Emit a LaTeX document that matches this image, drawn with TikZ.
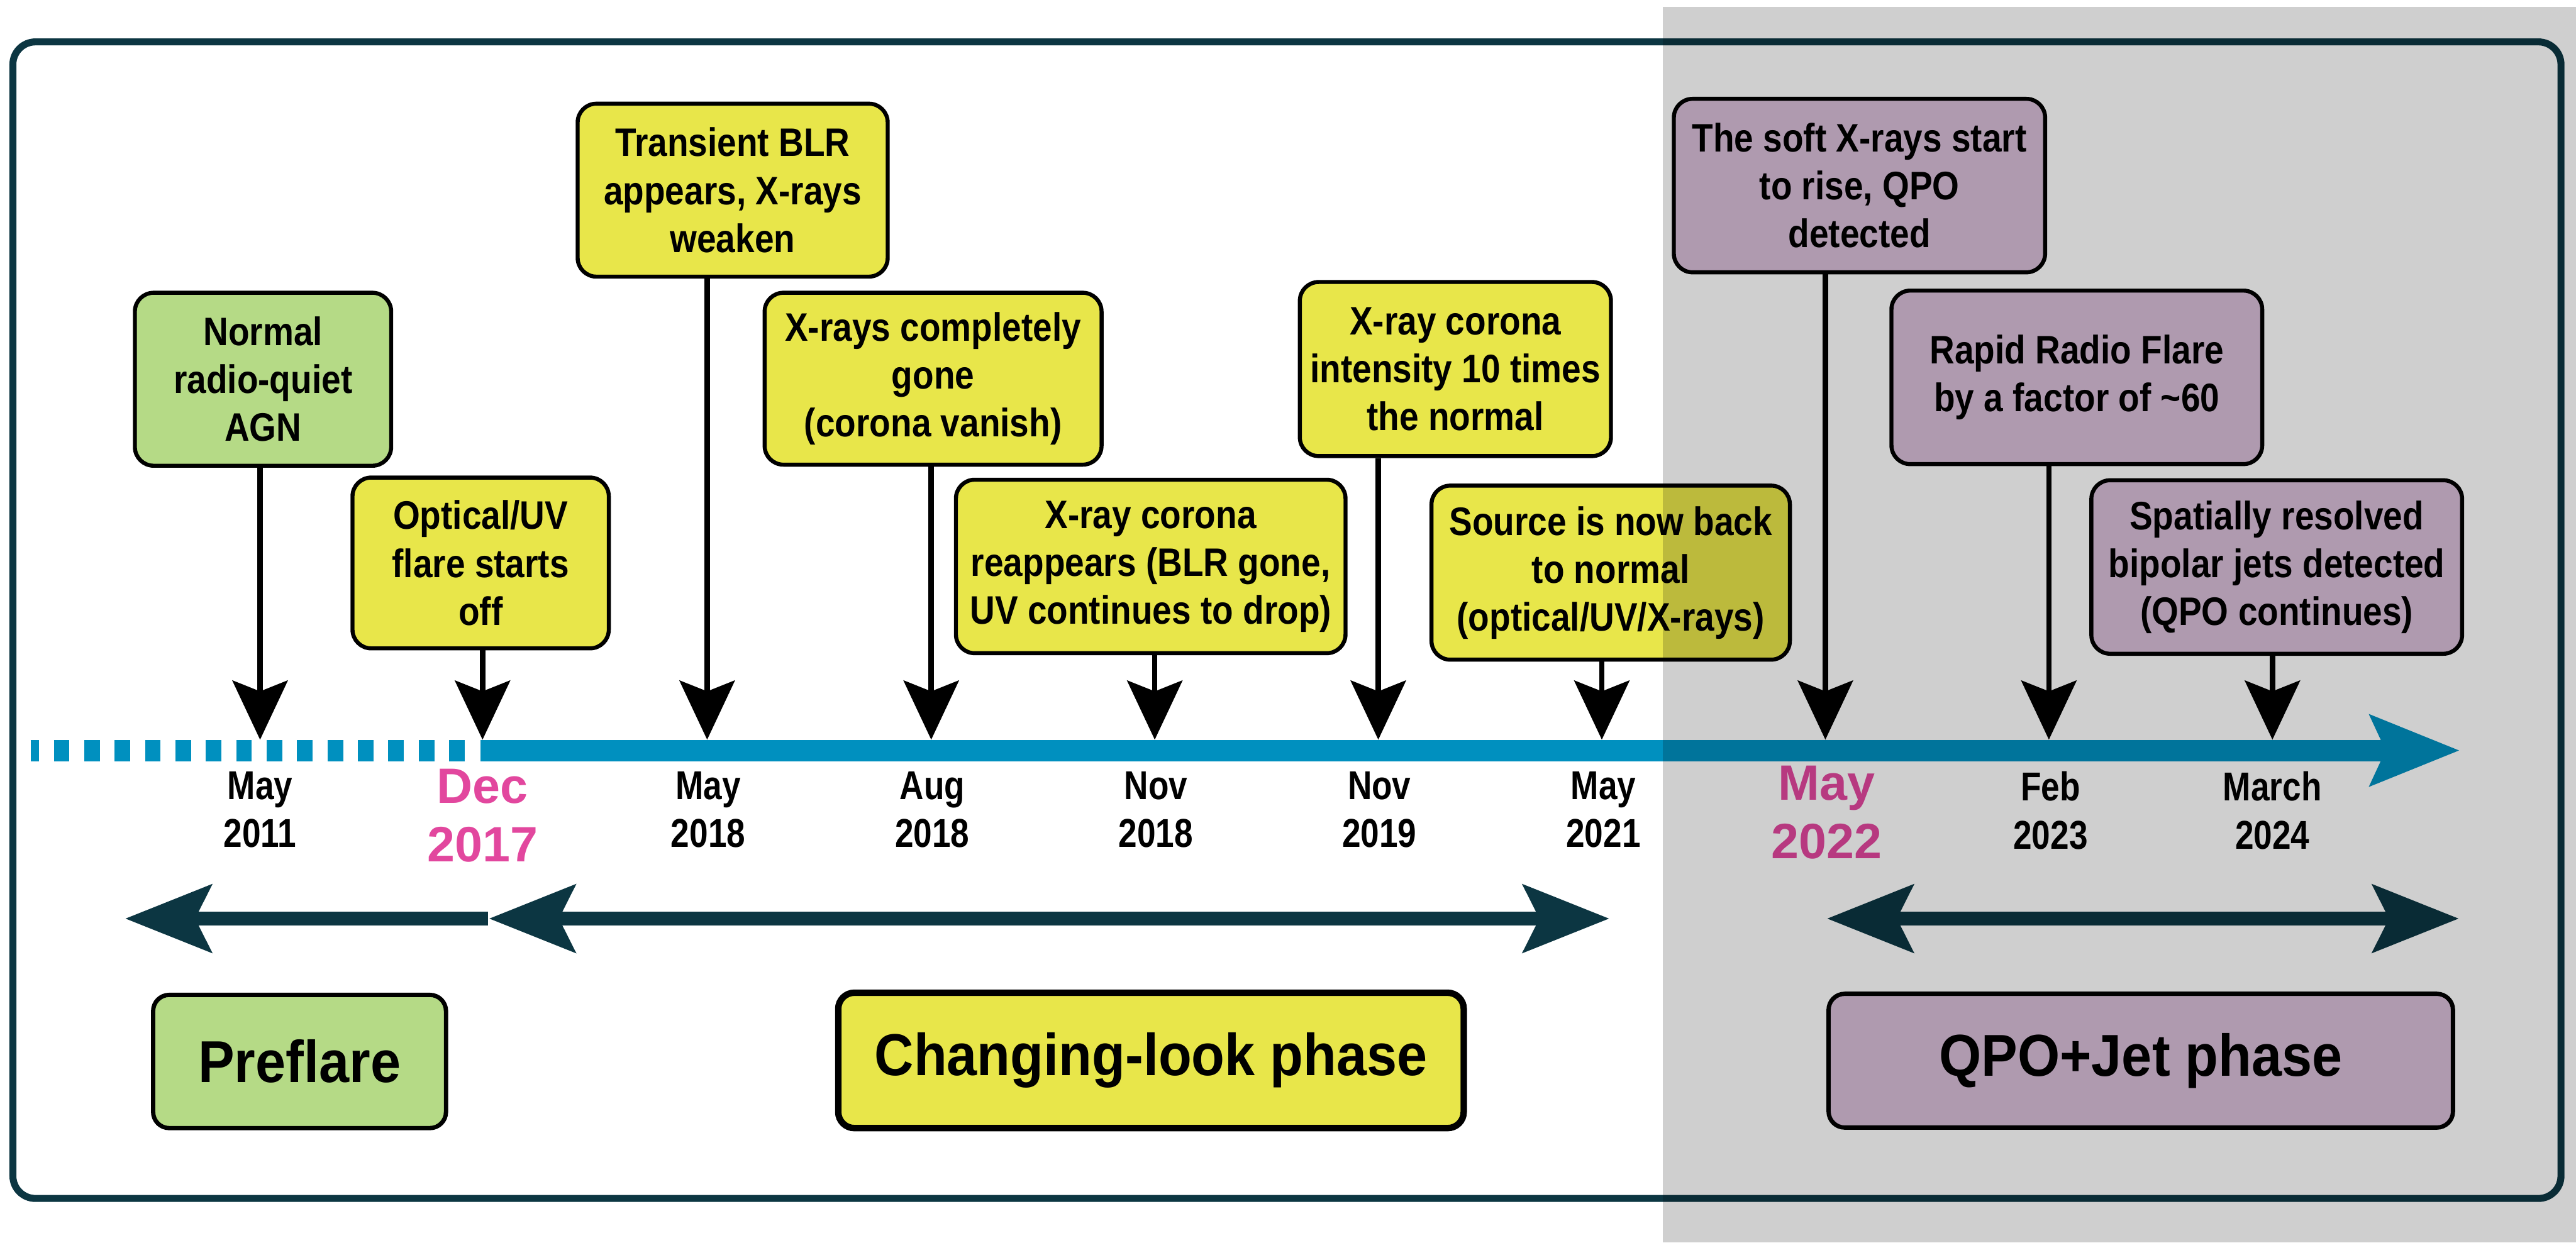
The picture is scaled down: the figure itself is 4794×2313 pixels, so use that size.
\documentclass[tikz,border=0pt]{standalone}
\usepackage{fontspec}
\setmainfont{Liberation Sans}[FakeStretch=0.92]
\newfontfamily\pinkfont{Liberation Sans}
\newfontfamily\boxfont{Liberation Sans}[FakeStretch=0.87]
\newfontfamily\datefont{Liberation Sans}[FakeStretch=0.83]
\usetikzlibrary{arrows.meta}
\definecolor{cgreen}{RGB}{181,218,134}
\definecolor{cyellow}{RGB}{232,230,74}
\definecolor{cpurple}{RGB}{216,190,216}
\definecolor{cblue}{RGB}{0,144,191}
\definecolor{cteal}{RGB}{12,54,66}
\definecolor{cpink}{RGB}{226,71,158}
\begin{document}
\begin{tikzpicture}[x=0.2pt,y=-0.2pt,
  evbox/.style={draw=black, line width=1.5pt, rounded corners=7pt, inner sep=0pt, align=center,
    font=\boxfont\bfseries\fontsize{14.8pt}{17.8pt}\selectfont},
  gbox/.style={evbox, fill=cgreen},
  ybox/.style={evbox, fill=cyellow},
  pbox/.style={evbox, fill=cpurple},
  phbox/.style={draw=black, line width=1.6pt, rounded corners=6pt, inner sep=0pt,
    font=\bfseries\fontsize{22pt}{26pt}\selectfont},
  conn/.style={line width=2pt, draw=black, -{Stealth[length=22pt,width=20.5pt,inset=4pt]}},
  datelab/.style={anchor=north, inner sep=0pt, align=center,
    font=\datefont\bfseries\fontsize{15pt}{18pt}\selectfont},
  pinkdate/.style={anchor=north, inner sep=0pt, align=center, text=cpink,
    font=\pinkfont\bfseries\fontsize{18.5pt}{21.8pt}\selectfont},
  phasearrow/.style={draw=cteal, line width=5pt},
  axisline/.style={draw=cblue, line width=8pt}
]
\useasboundingbox (0,0) rectangle (4794,2313);
\fill[white] (0,0) rectangle (4794,2313);

% outer frame
\draw[cteal, line width=2.6pt, rounded corners=8.4pt] (24,78) rectangle (4766,2231);

% timeline axis
\coordinate (axd0) at (57,1397);
\coordinate (axd1) at (866,1397);
\coordinate (ax0) at (894,1397);
\coordinate (ax1) at (4578,1397);
\draw[axisline, dash pattern=on 5.8pt off 5.52pt, dash phase=2.7pt] (axd0) -- (axd1);
\draw[axisline, -{Stealth[length=33pt,width=25.6pt,inset=5.4pt]}] (ax0) -- (ax1);

% tick points on the axis
\coordinate (t1) at (484,1377);
\coordinate (t2) at (898,1377);
\coordinate (t3) at (1316,1377);
\coordinate (t4) at (1733,1377);
\coordinate (t5) at (2149,1377);
\coordinate (t6) at (2565,1377);
\coordinate (t7) at (2981,1377);
\coordinate (t8) at (3397,1377);
\coordinate (t9) at (3813,1377);
\coordinate (t10) at (4229,1377);

% event boxes
\node[gbox, minimum width=95.4pt, minimum height=64.4pt] (N) at (489.5,706) {Normal\\radio-quiet\\AGN};
\node[ybox, minimum width=95.4pt, minimum height=63.6pt] (O) at (894.5,1048) {Optical/UV\\flare starts\\off};
\node[ybox, minimum width=115.4pt, minimum height=64.4pt] (T) at (1363.5,354) {Transient BLR\\appears, X-rays\\weaken};
\node[ybox, minimum width=125.4pt, minimum height=64pt] (XG) at (1736.5,705) {X-rays completely\\gone\\(corona vanish)};
\node[ybox, minimum width=145pt, minimum height=64.6pt] (XR) at (2141.5,1054.5) {X-ray corona\\reappears (BLR gone,\\UV continues to drop)};
\node[ybox, minimum width=115.8pt, minimum height=64.8pt] (XI) at (2708.5,687) {X-ray corona\\intensity 10 times\\the normal};
\node[ybox, minimum width=133.4pt, minimum height=64.8pt] (S) at (2997.5,1066) {Source is now back\\to normal\\(optical/UV/X-rays)};
\node[pbox, minimum width=138.2pt, minimum height=64.6pt] (SX) at (3460.5,345.5) {The soft X-rays start\\to rise, QPO\\detected};
\node[pbox, minimum width=138pt, minimum height=64.6pt] (RR) at (3865,702.5) {Rapid Radio Flare\\by a factor of \textasciitilde 60};
\node[pbox, minimum width=138pt, minimum height=64.6pt] (SR) at (4237,1055.5) {Spatially resolved\\bipolar jets detected\\(QPO continues)};

% connectors
\draw[conn] (N.south -| t1) -- (t1);
\draw[conn] (O.south -| t2) -- (t2);
\draw[conn] (T.south -| t3) -- (t3);
\draw[conn] (XG.south -| t4) -- (t4);
\draw[conn] (XR.south -| t5) -- (t5);
\draw[conn] (XI.south -| t6) -- (t6);
\draw[conn] (S.south -| t7) -- (t7);
\draw[conn] (SX.south -| t8) -- (t8);
\draw[conn] (RR.south -| t9) -- (t9);
\draw[conn] (SR.south -| t10) -- (t10);

% dates
\node[datelab] (d1) at (484,1435) {May\\2011};
\node[pinkdate] (d2) at (898,1430) {Dec\\2017};
\node[datelab] (d3) at (1318,1435) {May\\2018};
\node[datelab] (d4) at (1735,1435) {Aug\\2018};
\node[datelab] (d5) at (2151,1435) {Nov\\2018};
\node[datelab] (d6) at (2567,1435) {Nov\\2019};
\node[datelab] (d7) at (2984,1435) {May\\2021};
\node[pinkdate] (d8) at (3399,1425) {May\\2022};
\node[datelab] (d9) at (3816,1435) {Feb\\2023};
\node[datelab] (d10) at (4229,1435) {March\\2024};

% phase arrows
\coordinate (pa1s) at (233,1710);
\coordinate (pa1e) at (908,1710);
\coordinate (pa2s) at (910,1710);
\coordinate (pa2e) at (2995,1710);
\coordinate (pa3s) at (3400,1710);
\coordinate (pa3e) at (4576,1710);
\draw[phasearrow, -{Stealth[length=32pt,width=25pt,inset=6pt]}] (pa1e) -- (pa1s);
\draw[phasearrow, {Stealth[length=32pt,width=25pt,inset=6pt]}-{Stealth[length=32pt,width=25pt,inset=6pt]}] (pa2s) -- (pa2e);
\draw[phasearrow, {Stealth[length=32pt,width=25pt,inset=6pt]}-{Stealth[length=32pt,width=25pt,inset=6pt]}] (pa3s) -- (pa3e);

% phase boxes
\node[phbox, fill=cgreen, minimum width=109pt, minimum height=49.6pt] (P) at (557.5,1976) {Preflare};
\node[phbox, fill=cyellow, line width=2.4pt, minimum width=232.8pt, minimum height=50.4pt] (C) at (2142,1974) {Changing-look phase};
\node[phbox, fill=cpurple, minimum width=232.4pt, minimum height=49.8pt] (Q) at (3984,1974.5) {QPO+Jet phase};

% gray overlay
\fill[black, opacity=0.19] (3094,13) rectangle (4794,2313);
\end{tikzpicture}
\end{document}
